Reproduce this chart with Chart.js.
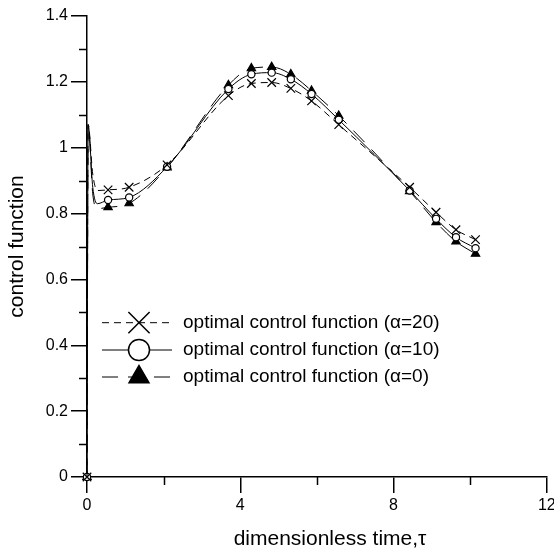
<!DOCTYPE html>
<html><head><meta charset="utf-8">
<script src="https://cdn.jsdelivr.net/npm/chart.js@4/dist/chart.umd.min.js"></script>
<style>html,body{margin:0;padding:0;background:#fff}#wrap{width:554px;height:548px}</style>
</head><body><div id="wrap"><canvas id="c" width="554" height="548"></canvas></div>
<script>
const seriesNames = ['optimal control function (\u03B1=20)', 'optimal control function (\u03B1=10)', 'optimal control function (\u03B1=0)'];
const xTitle = 'dimensionless time,\u03C4';
const yTitle = 'control function';
const tau = [0, 0.03, 0.15, 0.27, 0.55, 1.1, 2.09, 3.69, 4.29, 4.82, 5.32, 5.86, 6.57, 8.42, 9.11, 9.63, 10.14];
const markerTau = [0, 0.55, 1.1, 2.09, 3.69, 4.29, 4.82, 5.32, 5.86, 6.57, 8.42, 9.11, 9.63, 10.14];
const alpha20 = [0, 1.07, 0.92, 0.87, 0.872, 0.880, 0.948, 1.158, 1.195, 1.198, 1.180, 1.142, 1.070, 0.880, 0.804, 0.751, 0.721];
const alpha10 = [0, 1.07, 0.88, 0.83, 0.841, 0.849, 0.942, 1.178, 1.223, 1.228, 1.208, 1.163, 1.085, 0.870, 0.784, 0.728, 0.695];
const alpha0  = [0, 1.07, 0.86, 0.815, 0.819, 0.831, 0.940, 1.190, 1.241, 1.245, 1.223, 1.173, 1.097, 0.868, 0.774, 0.715, 0.678];
const xTicks = [0, 4, 8, 12];
const xMinorTicks = [2, 6, 10];
const yTicks = [0, 0.2, 0.4, 0.6, 0.8, 1, 1.2, 1.4];
const yMinorTicks = [0.1, 0.3, 0.5, 0.7, 0.9, 1.1, 1.3];

const FONT = "'Liberation Sans', Arial, sans-serif";
const styles = [
  {dash: [7, 5], pointStyle: 'crossRot', r: 6, lr: 15, fill: '#000'},
  {dash: [], pointStyle: 'circle', r: 3.6, lr: 10.5, fill: '#fff'},
  {dash: [16, 10], pointStyle: 'triangle', r: 4.8, lr: 11.5, fill: '#000'}
];
const seriesValues = [alpha20, alpha10, alpha0];

function drawMarker(ctx, style, radius, x, y) {
  ctx.save();
  ctx.setLineDash([]);
  ctx.fillStyle = style.fill;
  ctx.strokeStyle = '#000';
  ctx.lineWidth = 1.5;
  if (Chart.helpers && Chart.helpers.drawPoint) {
    Chart.helpers.drawPoint(ctx, {pointStyle: style.pointStyle, radius: radius, rotation: 0, borderWidth: 1.5}, x, y);
  }
  ctx.restore();
}

const extraPlugin = {
  id: 'extra',
  afterDraw(chart) {
    const ctx = chart.ctx;
    const xs = chart.scales.x, ys = chart.scales.y;
    const ca = chart.chartArea;
    ctx.save();
    ctx.strokeStyle = '#000';
    ctx.lineWidth = 1.5;
    ctx.setLineDash([]);
    yMinorTicks.forEach(v => {
      const p = Math.round(ys.getPixelForValue(v)) + 0.5;
      ctx.beginPath(); ctx.moveTo(ca.left - 8, p); ctx.lineTo(ca.left, p); ctx.stroke();
    });
    xMinorTicks.forEach(v => {
      const p = Math.round(xs.getPixelForValue(v)) + 0.5;
      ctx.beginPath(); ctx.moveTo(p, ca.bottom); ctx.lineTo(p, ca.bottom + 8); ctx.stroke();
    });
    // x axis title
    ctx.fillStyle = '#000';
    ctx.font = '21px ' + FONT;
    ctx.textAlign = 'center';
    ctx.textBaseline = 'alphabetic';
    ctx.fillText(xTitle, 330, 545);
    // legend
    const rowY = [322.7, 350, 377];
    seriesNames.forEach((name, i) => {
      const y = rowY[i];
      const st = styles[i];
      ctx.save();
      ctx.lineWidth = 1;
      ctx.setLineDash(st.dash);
      ctx.beginPath(); ctx.moveTo(102, y); ctx.lineTo(172, y); ctx.stroke();
      ctx.restore();
      drawMarker(ctx, st, st.lr, 139, y);
      ctx.fillStyle = '#000';
      ctx.font = '19px ' + FONT;
      ctx.textBaseline = 'middle';
      ctx.textAlign = 'left';
      ctx.fillText(name, 183, y);
    });
    ctx.restore();
  }
};

const datasets = seriesValues.map((vals, i) => ({
  label: seriesNames[i],
  data: tau.map((t, j) => ({x: t, y: vals[j]})),
  borderColor: '#000',
  borderWidth: 1,
  borderDash: styles[i].dash,
  cubicInterpolationMode: 'monotone',
  fill: false,
  pointStyle: styles[i].pointStyle,
  pointRadius: ctx => (ctx.raw && markerTau.includes(ctx.raw.x)) ? styles[i].r : 0,
  pointHoverRadius: 0,
  pointBackgroundColor: styles[i].fill,
  pointBorderColor: '#000',
  pointBorderWidth: 1.2,
  clip: false
}));

new Chart(document.getElementById('c'), {
  type: 'line',
  data: {datasets},
  plugins: [extraPlugin],
  options: {
    responsive: false,
    animation: false,
    devicePixelRatio: 1,
    layout: {padding: {top: 16, right: 6, left: 0, bottom: 0}},
    plugins: {legend: {display: false}, tooltip: {enabled: false}},
    scales: {
      x: {
        type: 'linear', min: 0, max: 12,
        afterBuildTicks: s => { s.ticks = xTicks.map(v => ({value: v})); },
        ticks: {color: '#000', font: {family: FONT, size: 16}, padding: 3, maxRotation: 0, autoSkip: false, callback: v => String(v)},
        grid: {drawOnChartArea: false, drawTicks: true, tickLength: 16, color: '#000', lineWidth: 1.5},
        border: {display: true, color: '#000', width: 1.5},
        title: {display: false},
        afterFit: s => { s.height = 71; s.paddingLeft = 0; s.paddingRight = 0; }
      },
      y: {
        type: 'linear', min: 0, max: 1.4,
        afterBuildTicks: s => { s.ticks = yTicks.map(v => ({value: v})); },
        ticks: {color: '#000', font: {family: FONT, size: 16}, padding: 3, callback: v => String(v)},
        grid: {drawOnChartArea: false, drawTicks: true, tickLength: 16, color: '#000', lineWidth: 1.5},
        border: {display: true, color: '#000', width: 1.5},
        title: {display: true, text: yTitle, color: '#000', font: {family: FONT, size: 21, lineHeight: 1}, padding: {top: 7, bottom: 0}},
        afterFit: s => { s.width = 87; s.paddingTop = 0; s.paddingBottom = 0; }
      }
    }
  }
});
</script>
</body></html>
